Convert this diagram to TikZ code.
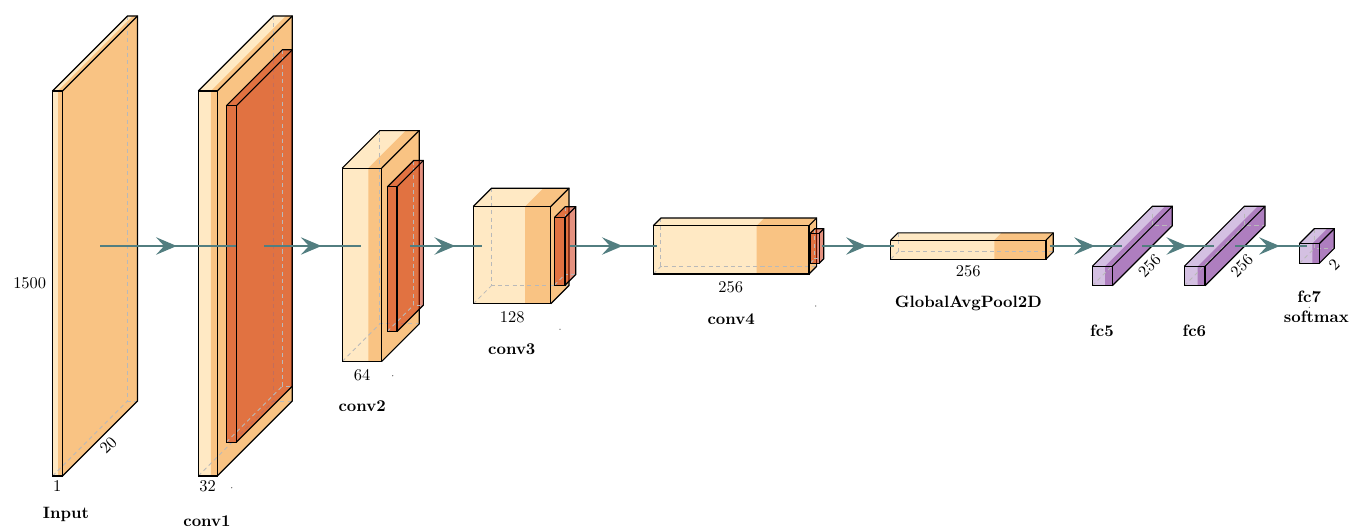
\documentclass[tikz,border=0pt]{standalone}
\usetikzlibrary{arrows.meta,decorations.markings}

\definecolor{convlight}{RGB}{255,233,196}
\definecolor{convband}{RGB}{249,195,131}
\definecolor{poolred}{RGB}{203,35,0}
\definecolor{fclight}{RGB}{212,192,226}
\definecolor{fcband}{RGB}{174,126,191}
\definecolor{linkcol}{RGB}{82,126,128}

\tikzset{
  edge/.style={line width=0.7pt},
  hidden/.style={gray!55,line width=0.5pt,dash pattern=on 2.5pt off 2pt},
  link/.style={linkcol,line width=1.8pt,postaction={decorate},
    decoration={markings,mark=at position 0.5 with {\pgftransformxshift{5.4pt}\arrow{Stealth[length=12.5pt,width=10.5pt,inset=4.8pt]}}}},
  lbl/.style={anchor=base,inner sep=0pt},
  rlbl/.style={rotate=45,inner sep=0pt},
}

\begin{document}
\begin{tikzpicture}[x=0.0214cm,y=-0.0214cm]
\useasboundingbox (0,0) rectangle (1352,527);
\def\cy{246}

% layers: name/x/width/light part/height/depth/colours
\foreach \nm/\lx/\lw/\lb/\lh/\ld/\ca/\cb in {
    input/52.5/10/5.5/385/75/convlight/convband,
    conv1/198.3/19/12.5/385/75/convlight/convband,
    conv2/342.3/39.4/26/193.3/37.5/convlight/convband,
    conv3/473.3/77.4/51.7/97.3/18.3/convlight/convband,
    conv4/653.3/155.7/103.4/48.3/7.6/convlight/convband,
    gap/890.7/155.3/103.6/19/7.2/convlight/convband,
    fc5/1092.3/20/12.7/19.4/60/fclight/fcband,
    fc6/1184.3/20.7/13.4/19.4/60/fclight/fcband,
    fc7/1299.3/20/13/19.7/15/fclight/fcband}
{
    \pgfmathsetmacro\ly{\cy-\lh/2+\ld/2}
    \fill[\ca] (\lx,\ly) rectangle ++(\lw,\lh)
        (\lx,\ly) -- ++(\ld,-\ld) -- ++(\lw,0) -- ++(-\ld,\ld) -- cycle;
    \fill[\cb] ({\lx+\lb},\ly) rectangle ({\lx+\lw},{\ly+\lh})
        ({\lx+\lb},\ly) -- ++(\ld,-\ld) -- ++({\lw-\lb},0) -- ++(0,\lh) -- ++(-\ld,\ld) -- ({\lx+\lw},\ly) -- cycle;
    \draw[hidden] ({\lx+\ld},{\ly-\ld}) -- ++(0,\lh) -- ++(\lw,0);
    \draw[hidden] (\lx,{\ly+\lh}) -- ++(\ld,-\ld);
    \draw[edge] (\lx,\ly) rectangle ++(\lw,\lh);
    \draw[edge] (\lx,\ly) -- ++(\ld,-\ld) -- ++(\lw,0) -- ++(0,\lh) -- ++(-\ld,\ld);
    \draw[edge] ({\lx+\lw},\ly) -- ++(\ld,-\ld);
    \coordinate (\nm-w) at ({\lx+\ld/2},\cy);
    \coordinate (\nm-e) at ({\lx+\lw+\ld/2},\cy);
}

% pooling slabs
\foreach \nm/\lx/\lw/\lh/\ld in {
    pool1/226.3/10/336.4/56,
    pool2/387.3/9.7/144.6/26.4,
    pool3/554.3/10.7/67.7/10.8,
    pool4/810.3/9/30/4.5}
{
    \pgfmathsetmacro\ly{\cy-\lh/2+\ld/2}
    \fill[poolred,fill opacity=0.5] (\lx,\ly) -- ++(\ld,-\ld) -- ++(\lw,0) -- ++(0,\lh)
        -- ++(-\ld,\ld) -- ++(-\lw,0) -- cycle;
    \draw[hidden] ({\lx+\ld},{\ly-\ld}) -- ++(0,\lh) -- ++(\lw,0);
    \draw[hidden] (\lx,{\ly+\lh}) -- ++(\ld,-\ld);
    \draw[edge] (\lx,\ly) rectangle ++(\lw,\lh);
    \draw[edge] (\lx,\ly) -- ++(\ld,-\ld) -- ++(\lw,0) -- ++(0,\lh) -- ++(-\ld,\ld);
    \draw[edge] ({\lx+\lw},\ly) -- ++(\ld,-\ld);
    \coordinate (\nm-e) at ({\lx+\lw+\ld/2},\cy);
}

\foreach \a/\b in {input/conv1,pool1/conv2,pool2/conv3,pool3/conv4,pool4/gap,gap/fc5,fc5/fc6,fc6/fc7}
    \draw[link] (\a-e) -- (\b-w);

% sizes
\node[lbl] (h-input) at (29.7,288.3) {1500};
\node[lbl] (w-input) at (57.3,491.7) {1};
\node[rlbl] (d-input) at (108.3,445.3) {20};
\node[lbl] (w-conv1) at (207.7,491.7) {32};
\node[lbl] (w-conv2) at (362,380.7) {64};
\node[lbl] (w-conv3) at (512.2,322.7) {128};
\node[lbl] (w-conv4) at (730.8,292.7) {256};
\node[lbl] (w-gap) at (968.3,276.5) {256};
\node[rlbl] (d-fc5) at (1149.5,265.8) {256};
\node[rlbl] (d-fc6) at (1241.8,265.8) {256};
\node[rlbl] (d-fc7) at (1334.2,265.2) {2};

% captions
\node[lbl,font=\bfseries] (cap-input) at (66,518.6) {Input};
\node[lbl,font=\bfseries] (cap-conv1) at (207,526.3) {conv1};
\node[lbl,font=\bfseries] (cap-conv2) at (362.2,411.6) {conv2};
\node[lbl,font=\bfseries] (cap-conv3) at (511.8,354) {conv3};
\node[lbl,font=\bfseries] (cap-conv4) at (731.2,324) {conv4};
\node[lbl,font=\bfseries] (cap-gap) at (968.3,307) {GlobalAvgPool2D};
\node[lbl,font=\bfseries] (cap-fc5) at (1102,336) {fc5};
\node[lbl,font=\bfseries] (cap-fc6) at (1194.3,336) {fc6};
\node[lbl,font=\bfseries] (cap-fc7) at (1309.2,302.5) {fc7};
\node[lbl,font=\bfseries] (cap-soft) at (1316.3,322.7) {softmax};

\foreach \px/\py in {231.7/487.7,392.7/375.7,560/329.3,815.7/306,1309.3/307.3}
    \fill[black!70] (\px,\py) circle (0.6);
\end{tikzpicture}
\end{document}
